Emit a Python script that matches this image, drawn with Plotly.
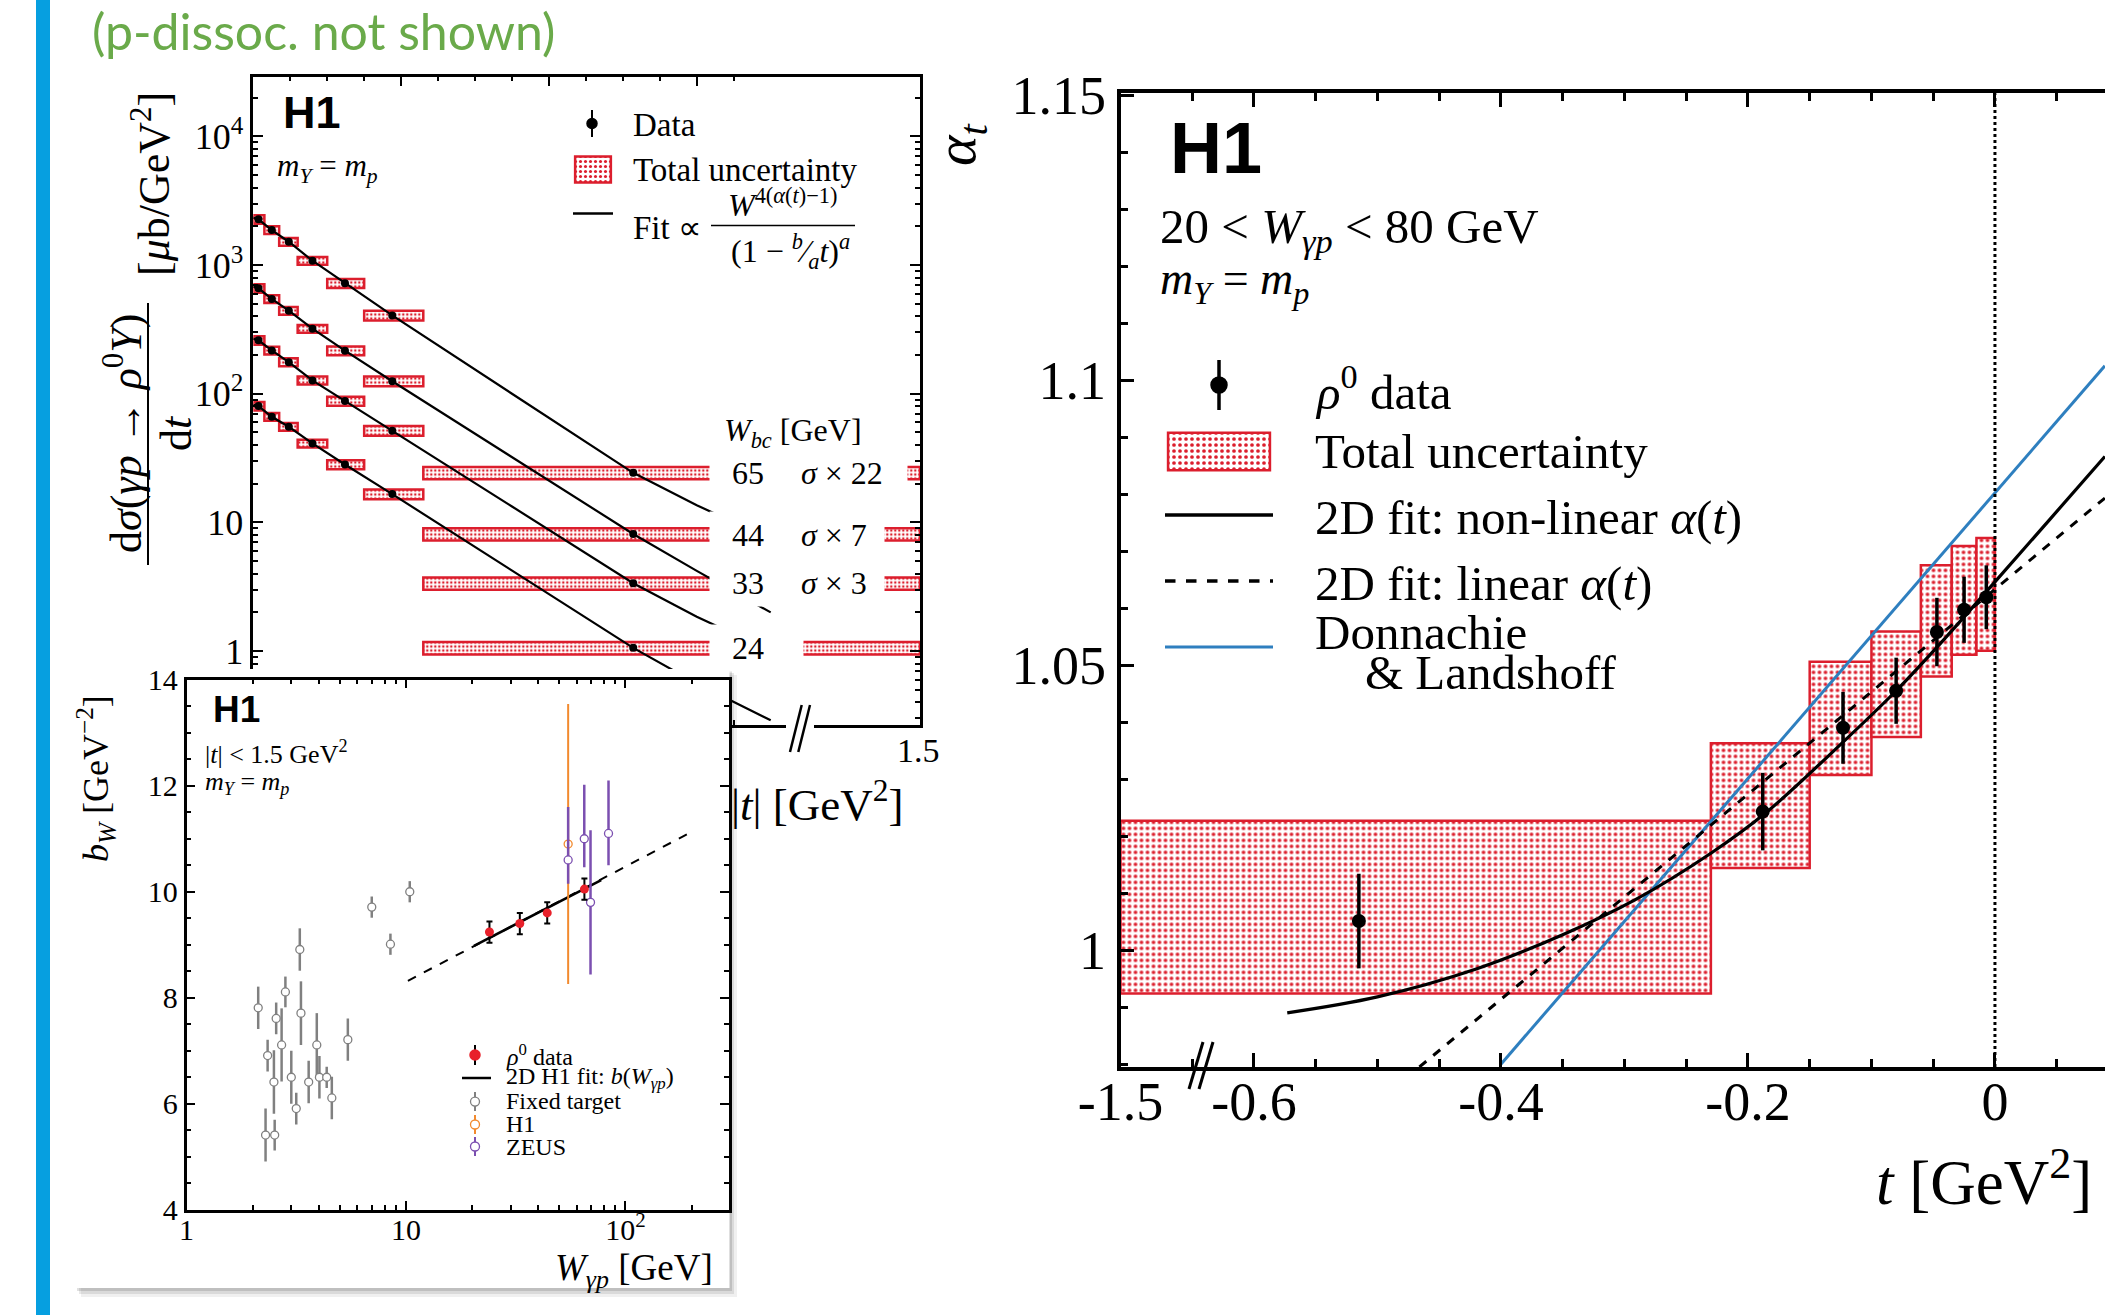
import plotly.graph_objects as go

W, H = 2105, 1315


def px(x):
    return x / W


def py(y):
    return 1 - y / H


SERIF = "Liberation Serif"
SANS = "Liberation Sans"
RED = "#dc1e2d"
DL_BLUE = "#2e7fbf"
SLIDE_BLUE = "#069fe0"
GREEN = "#6aaa4a"
GREY = "#808080"
ORANGE = "#f28a2e"
PURPLE = "#7b4fb0"

# ---------------- top-left panel: dsigma/dt vs |t| ----------------
tl_t = [0.007, 0.025, 0.048, 0.080, 0.124, 0.188, 0.514]
tl_edges = [0.0, 0.015, 0.035, 0.06, 0.10, 0.15, 0.23, 1.5]
xsec_w65 = [2266, 1870, 1517, 1080, 721, 406, 24.3]
xsec_w44 = [659, 545, 442, 320, 216, 125, 8.13]
xsec_w33 = [260, 217, 176, 127, 87.7, 51.6, 3.37]
xsec_w24 = [80.2, 66.2, 55.4, 41.1, 28.2, 16.6, 1.06]
xsec_tot_rel = [0.077, 0.07, 0.07, 0.07, 0.08, 0.087, 0.11]
xsec_stat_rel = [0.03, 0.03, 0.03, 0.03, 0.03, 0.03, 0.04]

fit_t = [0.0, 0.007, 0.025, 0.048, 0.080, 0.124, 0.188, 0.35, 0.514, 0.60, 0.70]
fit_w65 = [2334, 2266, 1870, 1517, 1080, 721, 406, 100, 24.3, 13.6, 7.4]
fit_w44 = [680, 659, 545, 442, 320, 216, 125, 32.1, 8.13, 4.2, 2.0]
fit_w33 = [268, 260, 217, 176, 127, 87.7, 51.6, 13.3, 3.37, 1.85, 1.0]
fit_w24 = [82, 80.2, 66.2, 55.4, 41.1, 28.2, 16.6, 4.23, 1.06, 0.56, 0.29]

w_labels = ["65", "44", "33", "24"]
scale_labels = ["<i>σ</i> × 22", "<i>σ</i> × 7", "<i>σ</i> × 3", ""]

# ---------------- inset: b slope vs W ----------------
rho_W = [24, 33, 44, 65]
rho_b = [9.24, 9.40, 9.60, 10.05]
rho_err = [0.2, 0.2, 0.2, 0.2]
bfit_W_solid = [20.4, 77.5]
bfit_b_solid = [8.98, 10.22]
bfit_W_dash = [10.2, 194]
bfit_b_dash = [8.32, 11.1]
ft_W = [2.12, 2.34, 2.29, 2.52, 2.50, 2.56, 2.71, 2.82, 3.00, 3.16, 3.28, 3.32,
        3.60, 3.92, 4.03, 4.35, 4.59, 5.43, 6.98, 8.49, 10.4]
ft_b = [7.81, 6.91, 5.41, 5.41, 6.41, 7.61, 7.11, 8.11, 6.50, 5.91, 8.91, 7.71,
        6.41, 7.11, 6.50, 6.50, 6.11, 7.21, 9.71, 9.01, 10.0]
ft_err = [0.4, 0.3, 0.5, 0.29, 0.6, 0.3, 0.69, 0.29, 0.5, 0.3, 0.4, 0.6,
          0.4, 0.6, 0.4, 0.2, 0.4, 0.4, 0.2, 0.2, 0.2]
h1_W = [54.8]
h1_b = [10.9]
h1_err = [2.64]
zeus_W = [54.8, 64.9, 69.3, 83.7]
zeus_b = [10.6, 11.0, 9.8, 11.1]
zeus_err_up = [1.0, 1.02, 1.36, 1.0]
zeus_err_dn = [0.45, 0.54, 1.36, 0.6]

# ---------------- right panel: alpha(t) ----------------
a_t = [-0.515, -0.188, -0.123, -0.080, -0.047, -0.025, -0.007]
a_val = [1.0051, 1.0243, 1.0390, 1.0455, 1.0558, 1.0597, 1.0619]
a_err = [0.0083, 0.0068, 0.0063, 0.0058, 0.0060, 0.0058, 0.0056]
a_edges = [-1.5, -0.23, -0.15, -0.10, -0.06, -0.035, -0.015, 0.0]
a_box_lo = [0.9924, 1.0144, 1.0307, 1.0374, 1.0480, 1.0518, 1.0525]
a_box_hi = [1.0227, 1.0363, 1.0506, 1.0559, 1.0675, 1.0709, 1.0723]
nl_t = [-0.573, -0.50, -0.42, -0.35, -0.29, -0.23, -0.186, -0.123, -0.08, -0.04, 0.0, 0.045, 0.089]
nl_a = [0.9890, 0.9918, 0.9967, 1.0027, 1.0090, 1.0170, 1.0240, 1.0365, 1.0455, 1.0548, 1.0646, 1.0757, 1.0866]
lin_t = [-0.466, 0.089]
lin_a = [0.9795, 1.0793]
dl_t = [-0.40, 0.089]
dl_a = [0.98, 1.1025]


def disp_tl(v):
    # broken |t| axis of the left panel
    return v if v <= 0.74 else 0.74 + (v - 0.74) * (0.162 / 0.76)


def disp_r(v):
    # broken t axis of the right panel (-1.5 sits at the axis start)
    return v if v > -0.70 else -0.708


def box_marker(size, sol=0.32):
    return dict(color="white", line=dict(color=RED, width=2.5),
                pattern=dict(shape=".", fgcolor=RED, bgcolor="white",
                             size=size, solidity=sol, fillmode="replace"))


fig = go.Figure()

# ---- top-left traces
e_d = [disp_tl(e) for e in tl_edges]
tl_cent = [(a + b) / 2 for a, b in zip(e_d[:-1], e_d[1:])]
tl_wid = [b - a for a, b in zip(e_d[:-1], e_d[1:])]
tl_x = [disp_tl(v) for v in tl_t]
fit_x = [disp_tl(v) for v in fit_t]
for vals in (xsec_w65, xsec_w44, xsec_w33, xsec_w24):
    fig.add_trace(go.Bar(
        x=tl_cent, width=tl_wid,
        base=[v * (1 - r) for v, r in zip(vals, xsec_tot_rel)],
        y=[2 * v * r for v, r in zip(vals, xsec_tot_rel)],
        marker=box_marker(4, 0.3), xaxis="x", yaxis="y", showlegend=False))
for f in (fit_w65, fit_w44, fit_w33, fit_w24):
    fig.add_trace(go.Scatter(x=fit_x, y=f, mode="lines",
                             line=dict(color="black", width=2.2),
                             xaxis="x", yaxis="y", showlegend=False))
for vals in (xsec_w65, xsec_w44, xsec_w33, xsec_w24):
    fig.add_trace(go.Scatter(
        x=tl_x, y=vals, mode="markers",
        marker=dict(color="black", size=8),
        error_y=dict(type="data", array=[v * r for v, r in zip(vals, xsec_stat_rel)],
                     color="black", thickness=1.5, width=0),
        xaxis="x", yaxis="y", showlegend=False))

# ---- white panel behind the inset (own subplot so it covers the panel above)
fig.add_trace(go.Scatter(x=[None], y=[None], xaxis="x2", yaxis="y2", showlegend=False))

# ---- inset traces
fig.add_trace(go.Scatter(
    x=ft_W, y=ft_b, mode="markers",
    marker=dict(symbol="circle", size=8, color="white", line=dict(color=GREY, width=1.3)),
    error_y=dict(type="data", array=ft_err, color=GREY, thickness=2.5, width=0),
    xaxis="x3", yaxis="y3", showlegend=False))
fig.add_trace(go.Scatter(x=bfit_W_dash, y=bfit_b_dash, mode="lines",
                         line=dict(color="black", width=2, dash="dash"),
                         xaxis="x3", yaxis="y3", showlegend=False))
fig.add_trace(go.Scatter(x=bfit_W_solid, y=bfit_b_solid, mode="lines",
                         line=dict(color="black", width=2.6),
                         xaxis="x3", yaxis="y3", showlegend=False))
fig.add_trace(go.Scatter(
    x=h1_W, y=h1_b, mode="markers",
    marker=dict(symbol="circle", size=8, color="white", line=dict(color=ORANGE, width=1.3)),
    error_y=dict(type="data", array=h1_err, color=ORANGE, thickness=2, width=0),
    xaxis="x3", yaxis="y3", showlegend=False))
fig.add_trace(go.Scatter(
    x=zeus_W, y=zeus_b, mode="markers",
    marker=dict(symbol="circle", size=8, color="white", line=dict(color=PURPLE, width=1.3)),
    error_y=dict(type="data", array=zeus_err_up, arrayminus=zeus_err_dn,
                 color=PURPLE, thickness=2.5, width=0),
    xaxis="x3", yaxis="y3", showlegend=False))
fig.add_trace(go.Scatter(
    x=rho_W, y=rho_b, mode="markers",
    marker=dict(symbol="circle", size=9, color="#e8202a"),
    error_y=dict(type="data", array=rho_err, color="black", thickness=2, width=3),
    xaxis="x3", yaxis="y3", showlegend=False))

# ---- right panel traces
r_e = [disp_r(e) for e in a_edges]
r_cent = [(a + b) / 2 for a, b in zip(r_e[:-1], r_e[1:])]
r_wid = [b - a for a, b in zip(r_e[:-1], r_e[1:])]
fig.add_trace(go.Bar(x=r_cent, width=r_wid, base=a_box_lo,
                     y=[h - l for h, l in zip(a_box_hi, a_box_lo)],
                     marker=box_marker(6, 0.3), xaxis="x4", yaxis="y4", showlegend=False))
fig.add_trace(go.Scatter(x=dl_t, y=dl_a, mode="lines", line=dict(color=DL_BLUE, width=3),
                         xaxis="x4", yaxis="y4", showlegend=False))
fig.add_trace(go.Scatter(x=lin_t, y=lin_a, mode="lines",
                         line=dict(color="black", width=3, dash="dash"),
                         xaxis="x4", yaxis="y4", showlegend=False))
fig.add_trace(go.Scatter(x=nl_t, y=nl_a, mode="lines",
                         line=dict(color="black", width=3.2, shape="spline"),
                         xaxis="x4", yaxis="y4", showlegend=False))
fig.add_trace(go.Scatter(
    x=[disp_r(v) for v in a_t], y=a_val, mode="markers",
    marker=dict(color="black", size=14),
    error_y=dict(type="data", array=a_err, color="black", thickness=3.5, width=0),
    xaxis="x4", yaxis="y4", showlegend=False))

# ---- legend swatches (patterned boxes)
fig.add_trace(go.Bar(x=[0.5], y=[1], base=[0], width=[1], marker=box_marker(5, 0.3),
                     xaxis="x5", yaxis="y5", showlegend=False))
fig.add_trace(go.Bar(x=[0.5], y=[1], base=[0], width=[1], marker=box_marker(6, 0.3),
                     xaxis="x6", yaxis="y6", showlegend=False))

# ---------------- axes ----------------
ax_common = dict(showgrid=False, zeroline=False, showline=True, linecolor="black",
                 ticks="inside", tickcolor="black", mirror="ticks", automargin=False)
hidden = dict(visible=False, automargin=False)

log_minor_tl = [m * 10 ** k for k in range(-1, 5) for m in range(2, 10)
                if 0.27 < m * 10 ** k < 29000]
log_minor_in = [m * 10 ** k for k in range(0, 3) for m in range(2, 10) if m * 10 ** k < 295]

r_major = [-0.6, -0.4, -0.2, 0.0]
r_minor = [round(-0.65 + 0.05 * i, 2) for i in range(15)]
r_minor = [v for v in r_minor if all(abs(v - m) > 1e-6 for m in r_major)]
y4_minor = [round(0.98 + 0.01 * i, 2) for i in range(18)]

fig.update_layout(
    xaxis=dict(ax_common, domain=[px(253.3), px(920)], range=[0, 0.902], anchor="y",
               linewidth=2.5, ticklen=10, tickwidth=2,
               tickvals=[0, 0.2, 0.4, 0.6], ticktext=["0", "0.2", "0.4", "0.6"],
               tickfont=dict(family=SERIF, size=34, color="black"),
               minor=dict(ticks="inside", ticklen=5, tickwidth=1.5, tickcolor="black",
                          tickvals=[0.05, 0.1, 0.15, 0.25, 0.3, 0.35, 0.45, 0.5, 0.55, 0.65])),
    yaxis=dict(ax_common, type="log", domain=[py(725), py(76.5)], range=[-0.574, 4.465],
               anchor="x", linewidth=2.5, ticklen=10, tickwidth=2,
               tickvals=[1, 10, 100, 1000, 10000],
               ticktext=["1", "10", "10<sup>2</sup>", "10<sup>3</sup>", "10<sup>4</sup>"],
               tickfont=dict(family=SERIF, size=36, color="black"),
               minor=dict(ticks="inside", ticklen=5, tickwidth=1.5, tickcolor="black",
                          tickvals=log_minor_tl)),
    xaxis2=dict(hidden, domain=[px(75), px(729.5)], range=[0, 1], anchor="y2"),
    yaxis2=dict(hidden, domain=[py(1288), py(669)], range=[0, 1], anchor="x2"),
    xaxis3=dict(ax_common, type="log", domain=[px(186.6), px(728.6)], range=[0, 2.47],
                anchor="y3", linewidth=2.5, ticklen=9, tickwidth=2,
                tickvals=[1, 10, 100], ticktext=["1", "10", "10<sup>2</sup>"],
                ticklabelstandoff=-9,
                tickfont=dict(family=SERIF, size=30, color="black"),
                minor=dict(ticks="inside", ticklen=5, tickwidth=1.5, tickcolor="black",
                           tickvals=log_minor_in)),
    yaxis3=dict(ax_common, domain=[py(1209.8), py(679.7)], range=[4, 14], anchor="x3",
                linewidth=2.5, ticklen=9, tickwidth=2, tickvals=[4, 6, 8, 10, 12, 14],
                tickfont=dict(family=SERIF, size=30, color="black"),
                minor=dict(ticks="inside", ticklen=5, tickwidth=1.5, tickcolor="black",
                           dtick=0.5, tick0=4)),
    xaxis4=dict(ax_common, domain=[px(1120.5), 1.0], range=[-0.708, 0.0891], anchor="y4",
                linewidth=3.5, ticklen=14, tickwidth=3,
                tickvals=[-0.708] + r_major, ticktext=["-1.5", "-0.6", "-0.4", "-0.2", "0"],
                ticklabelstandoff=-16,
                tickfont=dict(family=SERIF, size=54, color="black"),
                minor=dict(ticks="inside", ticklen=8, tickwidth=2.5, tickcolor="black",
                           tickvals=r_minor)),
    yaxis4=dict(showgrid=False, zeroline=False, showline=True, linecolor="black",
                ticks="inside", tickcolor="black", mirror=False, automargin=False,
                domain=[py(1067), py(93.3)], range=[0.9795, 1.1503], anchor="x4",
                linewidth=3.5, ticklen=14, tickwidth=3,
                tickvals=[1.0, 1.05, 1.1, 1.15], ticktext=["1", "1.05", "1.1", "1.15"],
                tickfont=dict(family=SERIF, size=54, color="black"),
                minor=dict(ticks="inside", ticklen=8, tickwidth=2.5, tickcolor="black",
                           tickvals=y4_minor)),
    xaxis5=dict(hidden, domain=[px(573), px(613)], range=[-0.06, 1.06], anchor="y5"),
    yaxis5=dict(hidden, domain=[py(185), py(154)], range=[-0.1, 1.1], anchor="x5"),
    xaxis6=dict(hidden, domain=[px(1165), px(1273)], range=[-0.03, 1.03], anchor="y6"),
    yaxis6=dict(hidden, domain=[py(473), py(430)], range=[-0.07, 1.07], anchor="x6"),
)

# ---------------- shapes ----------------
shapes = []


def line(x0, y0, x1, y1, color="black", width=2, dash=None, layer="above"):
    d = dict(type="line", xref="paper", yref="paper", x0=px(x0), y0=py(y0), x1=px(x1), y1=py(y1),
             line=dict(color=color, width=width), layer=layer)
    if dash:
        d["line"]["dash"] = dash
    shapes.append(d)


def rect(x0, y0, x1, y1, fill, layer="above", lc=None, lw=0):
    shapes.append(dict(type="rect", xref="paper", yref="paper", x0=px(x0), y0=py(y1),
                       x1=px(x1), y1=py(y0), fillcolor=fill, layer=layer,
                       line=dict(color=lc or fill, width=lw)))


def circ(cx, cy, r, fill, lc, lw=1.5):
    shapes.append(dict(type="circle", xref="paper", yref="paper", x0=px(cx - r), x1=px(cx + r),
                       y0=py(cy + r), y1=py(cy - r), fillcolor=fill,
                       line=dict(color=lc, width=lw), layer="above"))


# slide decoration: blue bar
rect(36, 0, 50, H, SLIDE_BLUE, layer="below")
# inset drop shadow
rect(81, 675, 737, 1297, "rgba(0,0,0,0.06)", layer="below")
rect(79, 673, 734, 1294, "rgba(0,0,0,0.09)", layer="below")
rect(77, 671, 732, 1291, "rgba(0,0,0,0.12)", layer="below")

# top-left: y-title fraction bar, fit fraction bar
line(148, 303, 148, 565, width=2)
line(711, 225.5, 855, 225.5, width=1.5)
# top-left axis break
rect(786, 716, 814, 732, "white")
line(790, 752, 801.7, 705, width=2.5)
line(798.3, 752, 810, 705, width=2.5)
# clip of the left figure
rect(937, 728, 960, 780, "white")
# top-left legend symbols
line(592, 110, 592, 137, width=2)
circ(592, 123.5, 5, "black", "black")
line(573, 213.5, 613, 213.5, width=2.5)

# right: vertical dotted line at t = 0
shapes.append(dict(type="line", xref="x4", yref="y4 domain", x0=0, x1=0, y0=0, y1=1,
                   line=dict(color="black", width=3, dash="dot"), layer="above"))
# right axis break
line(1189, 1089, 1203, 1042, width=3)
line(1199, 1089, 1213, 1042, width=3)
# right legend symbols
line(1219, 360, 1219, 410, width=3.5)
circ(1219, 385, 8, "black", "black")
line(1165, 515, 1273, 515, width=3.5)
line(1165, 581, 1273, 581, width=3.5, dash="dash")
line(1165, 647, 1273, 647, color=DL_BLUE, width=3)

# inset legend symbols
line(475, 1045, 475, 1065, width=2)
circ(475, 1055, 5, "#e8202a", "#e8202a")
line(462, 1078, 491, 1078, width=2.5)
line(475, 1092, 475, 1111, color=GREY, width=2)
circ(475, 1101.6, 4.5, "white", GREY, 1.3)
line(475, 1115, 475, 1134, color=ORANGE, width=2)
circ(475, 1124.5, 4.5, "white", ORANGE, 1.3)
line(475, 1137, 475, 1156, color=PURPLE, width=2)
circ(475, 1146.5, 4.5, "white", PURPLE, 1.3)

# ---------------- annotations ----------------
ann = []


def text(x, y, s, size, xa="left", ya="middle", family=SERIF, color="black", angle=0, **kw):
    d = dict(x=px(x), y=py(y), xref="paper", yref="paper", text=s, showarrow=False,
             xanchor=xa, yanchor=ya, textangle=angle,
             font=dict(family=family, size=size, color=color))
    d.update(kw)
    ann.append(d)


mY = "<i>m</i><sub><i>Y</i></sub> = <i>m</i><sub><i>p</i></sub>"

text(90, 31, "(p-dissoc. not shown)", 50, family="Lato", color=GREEN)

# top-left panel texts
text(281, 113, "<b>H1</b>", 45, family=SANS)
text(275, 168, mY, 31)
text(631, 125, "Data", 33)
text(631, 170, "Total uncertainty", 33)
text(631, 228, "Fit ∝", 33)
text(783, 203, "<i>W</i><sup>4(<i>α</i>(<i>t</i>)−1)</sup>", 32, xa="center")
text(790, 251, "(1 − <sup><i>b</i></sup>⁄<sub><i>a</i></sub><i>t</i>)<sup><i>a</i></sup>", 32, xa="center")
text(722, 433, "<i>W</i><sub><i>bc</i></sub> [GeV]", 32)
row_y = [473, 535, 583, 648]
row_w = [197, 174, 174, 93]
for yy, ww in zip(row_y, row_w):
    text(709, yy, " ", 10, bgcolor="white", width=ww, height=46, borderpad=0)
for yy, wl, sl in zip(row_y, w_labels, scale_labels):
    text(748, yy, wl, 32, xa="center")
    if sl:
        text(799, yy, sl, 32)
text(123, 434, "d<i>σ</i>(<i>γp</i> → <i>ρ</i><sup>0</sup><i>Y</i>)", 44, xa="center", angle=-90)
text(177, 433, "d<i>t</i>", 44, xa="center", angle=-90)
text(151, 184, "[<i>μ</i>b/GeV<sup>2</sup>]", 44, xa="center", angle=-90)
text(817, 801, "|<i>t</i>| [GeV<sup>2</sup>]", 45, xa="center")
text(918, 750, "1.5", 34, xa="center")

# inset texts
text(211, 709, "<b>H1</b>", 37, family=SANS)
text(203, 752, "|<i>t</i>| &lt; 1.5 GeV<sup>2</sup>", 26)
text(203, 783, mY, 26)
text(96, 779, "<i>b</i><sub><i>W</i></sub> [GeV<sup>−2</sup>]", 36, xa="center", angle=-90)
text(715, 1270, "<i>W</i><sub><i>γp</i></sub> [GeV]", 37, xa="right")
text(504, 1055, "<i>ρ</i><sup>0</sup> data", 24)
text(504, 1078, "2D H1 fit: <i>b</i>(<i>W</i><sub><i>γp</i></sub>)", 24)
text(504, 1101, "Fixed target", 24)
text(504, 1124, "H1", 24)
text(504, 1147, "ZEUS", 24)

# right panel texts
text(1168, 148, "<b>H1</b>", 72, family=SANS)
text(1158, 229, "20 &lt; <i>W</i><sub><i>γp</i></sub> &lt; 80 GeV", 49)
text(1158, 282, mY, 46)
text(1313, 388, "<i>ρ</i><sup>0</sup> data", 49)
text(1313, 452, "Total uncertainty", 49)
text(1313, 518, "2D fit: non-linear <i>α</i>(<i>t</i>)", 49)
text(1313, 583, "2D fit: linear <i>α</i>(<i>t</i>)", 49)
text(1313, 632, "Donnachie", 49)
text(1363, 672, "&amp; Landshoff", 49)
text(960, 145, "<i>α</i><sub><i>t</i></sub>", 58, xa="center", angle=-90)
text(2094, 1178, "<i>t</i> [GeV<sup>2</sup>]", 63, xa="right")

fig.update_layout(
    width=W, height=H, margin=dict(l=0, r=0, t=0, b=0, pad=0, autoexpand=False),
    paper_bgcolor="white", plot_bgcolor="white",
    barmode="overlay", showlegend=False,
    font=dict(family=SERIF, color="black"),
    shapes=shapes, annotations=ann,
)

fig.write_html("out.html")
